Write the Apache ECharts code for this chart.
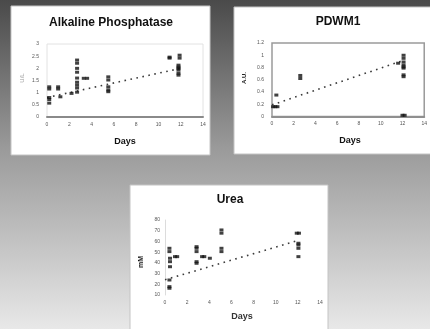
<!DOCTYPE html>
<html><head><meta charset="utf-8">
<script src="https://cdn.jsdelivr.net/npm/echarts@6/dist/echarts.min.js"></script>
<style>html,body{margin:0;padding:0;}#c{width:430px;height:329px;}</style>
</head><body><div id="c"></div>
<script>
// ---- data ----
const titles = ['Alkaline Phosphatase', 'PDWM1', 'Urea'];
const yTitles = ['U/L', 'A.U.', 'mM'];
const xTitle = 'Days';
const alpPoints = [[0.2,1.24],[0.2,1.15],[0.2,0.80],[0.2,0.72],[0.2,0.57],[1.0,1.24],[1.0,1.15],[1.2,0.83],[2.2,0.97],
  [2.7,2.34],[2.7,2.21],[2.7,2.0],[2.7,1.84],[2.7,1.6],[2.7,1.43],[2.7,1.31],[2.7,1.19],[2.7,1.02],[3.3,1.59],[3.6,1.59],
  [5.5,1.65],[5.5,1.52],[5.5,1.24],[5.5,1.11],[5.5,1.04],[11.0,2.46],[11.0,2.42],[11.9,2.54],[11.9,2.42],
  [11.8,2.13],[11.8,2.05],[11.8,2.0],[11.8,1.93],[11.8,1.8],[11.8,1.72]];
const alpTrend = [[0,0.80],[12,2.0]];
const pdwmPoints = [[0.1,0.16],[0.3,0.16],[0.5,0.16],[0.4,0.35],[2.6,0.67],[2.6,0.62],[11.6,0.87],
  [12.1,1.0],[12.1,0.95],[12.1,0.89],[12.1,0.84],[12.1,0.81],[12.1,0.79],[12.1,0.68],[12.1,0.65],[12.0,0.02],[12.2,0.02]];
const pdwmTrend = [[0,0.19],[12,0.91]];
const ureaPoints = [[0.4,53.6],[0.4,50.5],[0.45,44.3],[0.45,41.1],[0.45,36.4],[0.9,45.8],[1.1,45.8],[0.4,24],[0.4,17.8],[0.4,16.3],
  [2.85,55.1],[2.85,53.6],[2.85,50.5],[2.85,41.1],[2.85,39.6],[3.35,45.8],[3.55,45.8],[4.05,44.3],
  [5.1,70.7],[5.1,67.7],[5.1,53.6],[5.1,50.5],[11.9,67.7],[12.1,67.7],[12.05,58.3],[12.05,56.7],[12.05,53.6],[12.05,45.8]];
const ureaTrend = [[0,24.2],[12,60.8]];
const xRange = {min:0, max:14, interval:2};
const yRanges = [{min:0,max:3,interval:0.5},{min:0,max:1.2,interval:0.2},{min:10,max:80,interval:10}];

// ---- chart ----
const chart = echarts.init(document.getElementById('c'));
const grids = [
  {left:47, top:44, right:227, bottom:212, show:true, borderColor:'#e2e2e2', borderWidth:1, backgroundColor:'#fff'},
  {left:272, top:43, right:0, bottom:212.5, show:true, borderColor:'#9a9a9a', borderWidth:1.5, backgroundColor:'#fff'},
  {left:165, top:220, right:110, bottom:34, show:false}
];
const lblColor = '#555';
const xAxes = grids.map((g,i)=>({type:'value', gridIndex:i, min:xRange.min, max:xRange.max, interval:xRange.interval,
  axisLine:{show:i<2, lineStyle:{color:i===0?'#8a8a8a':'#8f8f8f', width:2}}, axisTick:{show:false}, splitLine:{show:false},
  axisLabel:{fontSize:5, color:lblColor, margin:5, fontFamily:'Liberation Sans'}}));
const yAxes = grids.map((g,i)=>Object.assign({type:'value', gridIndex:i,
  axisLine:{show:i===2, lineStyle:{color:'#dcdcdc', width:1}}, axisTick:{show:false}, splitLine:{show:false},
  axisLabel:{fontSize:5, color:lblColor, margin:i===2?5:8, fontFamily:'Liberation Sans'}}, yRanges[i]));
const pts = [alpPoints, pdwmPoints, ureaPoints];
const trends = [alpTrend, pdwmTrend, ureaTrend];
const series = [];
pts.forEach((p,i)=>{
  series.push({type:'line', xAxisIndex:i, yAxisIndex:i, data:trends[i], showSymbol:false, silent:true,
    lineStyle:{color:'#3a3a3a', width:1.6, type:[1.6,4.5]}, z:2});
  series.push({type:'scatter', xAxisIndex:i, yAxisIndex:i, data:p, symbol:'rect', symbolSize:[4,3],
    itemStyle:{color:'#111'}, z:3});
});
const tf = 'Liberation Sans';
const graphic = [
  {type:'rect', shape:{x:11,y:6,width:199,height:149}, style:{fill:'#fff', stroke:'#c4c4c4', lineWidth:1}, z:-10},
  {type:'rect', shape:{x:234,y:7,width:200,height:147}, style:{fill:'#fff', stroke:'#c4c4c4', lineWidth:1}, z:-10},
  {type:'rect', shape:{x:130,y:185,width:198,height:150}, style:{fill:'#fff', stroke:'#c4c4c4', lineWidth:1}, z:-10},
  {type:'text', x:111, y:23, style:{text:titles[0], font:'bold 12px '+tf, fill:'#111', textAlign:'center', textVerticalAlign:'middle'}},
  {type:'text', x:338, y:22, style:{text:titles[1], font:'bold 12px '+tf, fill:'#111', textAlign:'center', textVerticalAlign:'middle'}},
  {type:'text', x:230, y:200, style:{text:titles[2], font:'bold 12px '+tf, fill:'#111', textAlign:'center', textVerticalAlign:'middle'}},
  {type:'text', x:125, y:142, style:{text:xTitle, font:'bold 9px '+tf, fill:'#111', textAlign:'center', textVerticalAlign:'middle'}},
  {type:'text', x:350, y:141, style:{text:xTitle, font:'bold 9px '+tf, fill:'#111', textAlign:'center', textVerticalAlign:'middle'}},
  {type:'text', x:242, y:317, style:{text:xTitle, font:'bold 9px '+tf, fill:'#333', textAlign:'center', textVerticalAlign:'middle'}},
  {type:'text', x:22, y:78, rotation:Math.PI/2, style:{text:yTitles[0], font:'6px '+tf, fill:'#999', textAlign:'center', textVerticalAlign:'middle'}},
  {type:'text', x:244, y:78, rotation:Math.PI/2, style:{text:yTitles[1], font:'bold 6px '+tf, fill:'#222', textAlign:'center', textVerticalAlign:'middle'}},
  {type:'text', x:141, y:262, rotation:Math.PI/2, style:{text:yTitles[2], font:'bold 7px '+tf, fill:'#111', textAlign:'center', textVerticalAlign:'middle'}}
];
chart.setOption({
  animation:false,
  backgroundColor:{type:'linear', x:0, y:0, x2:0, y2:1, colorStops:[
    {offset:0, color:'#4a4a4a'},{offset:0.45, color:'#9a9a9a'},{offset:1, color:'#e8e8e8'}]},
  graphic: graphic,
  grid: grids, xAxis: xAxes, yAxis: yAxes, series: series
});
</script></body></html>
